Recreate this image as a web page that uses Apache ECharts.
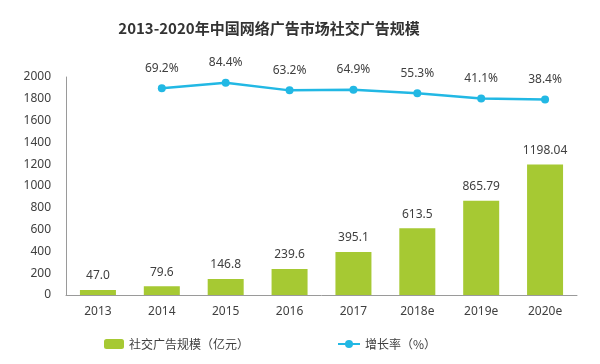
<!DOCTYPE html>
<html><head><meta charset="utf-8">
<script src="https://cdn.jsdelivr.net/npm/echarts@6/dist/echarts.min.js"></script>
<style>html,body{margin:0;padding:0;background:#fff}#c{width:600px;height:364px}</style>
</head><body><div id="c"></div>
<script>
const categories = ['2013','2014','2015','2016','2017','2018e','2019e','2020e'];
const adScale = [47.0, 79.6, 146.8, 239.6, 395.1, 613.5, 865.79, 1198.04];
const adScaleLabels = ['47.0','79.6','146.8','239.6','395.1','613.5','865.79','1198.04'];
const growthRate = [null, 69.2, 84.4, 63.2, 64.9, 55.3, 41.1, 38.4];
const yTicks = [0, 200, 400, 600, 800, 1000, 1200, 1400, 1600, 1800, 2000];
const seriesNames = ['社交广告规模（亿元）', '增长率（%）'];
const titleText = '2013-2020年中国网络广告市场社交广告规模';

const FONT = '"Noto Sans", "Noto Sans CJK SC", sans-serif';
const chart = echarts.init(document.getElementById('c'));
chart.setOption({
  animation: false,
  textStyle: { fontFamily: FONT },
  title: {
    text: titleText, left: 264, top: 16, textAlign: 'center',
    textStyle: { fontSize: 15, fontWeight: 'bold', color: '#333', fontFamily: '"Noto Sans CJK SC", sans-serif' }
  },
  legend: [
    { data: [seriesNames[0]], left: 99, top: 333, itemWidth: 20, itemHeight: 10, itemGap: 4,
      textStyle: { fontSize: 12, color: '#404040', fontFamily: '"Noto Sans CJK SC", sans-serif' } },
    { data: [seriesNames[1]], left: 332, top: 333, itemWidth: 22, itemHeight: 10,
      textStyle: { fontSize: 12, color: '#404040', fontFamily: '"Noto Sans CJK SC", sans-serif' } }
  ],
  grid: { left: 66, right: 23, top: 77, bottom: 69 },
  xAxis: {
    type: 'category', data: categories,
    axisLine: { lineStyle: { color: '#9a9a9a', width: 1 } },
    axisTick: { show: false },
    axisLabel: { fontSize: 12, color: '#404040', margin: 11 }
  },
  yAxis: [
    { type: 'value', min: yTicks[0], max: yTicks[yTicks.length - 1], interval: 200,
      axisLine: { show: true, lineStyle: { color: '#9a9a9a' } },
      axisTick: { show: false }, splitLine: { show: false },
      axisLabel: { fontSize: 12, color: '#404040', margin: 15, formatter: v => String(v) } },
    { type: 'value', min: -500, max: 100, show: false, splitLine: { show: false } }
  ],
  series: [
    { name: seriesNames[0], type: 'bar', data: adScale, barWidth: 36,
      itemStyle: { color: '#a6c933' },
      label: { show: true, position: 'top', distance: 8, fontSize: 12, color: '#404040',
        formatter: p => adScaleLabels[p.dataIndex] } },
    { name: seriesNames[1], type: 'line', yAxisIndex: 1, data: growthRate,
      symbol: 'circle', symbolSize: 8,
      lineStyle: { color: '#22b8e4', width: 2.5 }, itemStyle: { color: '#22b8e4' },
      label: { show: true, position: 'top', distance: 10, fontSize: 12, color: '#404040',
        formatter: p => p.value.toFixed(1) + '%' } }
  ]
});
</script></body></html>
